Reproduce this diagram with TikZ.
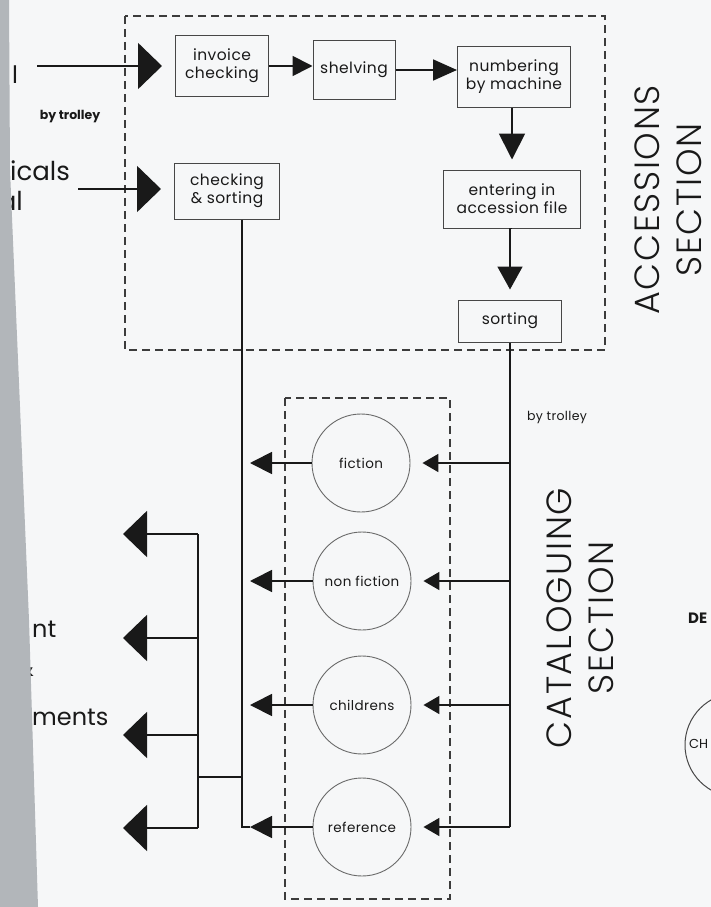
\documentclass[tikz,border=0pt]{standalone}
\usepackage{fontspec}
\setmainfont{Poppins}
\IfFontExistsTF{Poppins Light}{\newfontfamily\lightf{Poppins Light}[LetterSpace=5]}{\newfontfamily\lightf{Poppins}[LetterSpace=5]}
\newfontfamily\boxf{Poppins}[LetterSpace=3]
\usetikzlibrary{arrows.meta}
\definecolor{paper}{RGB}{246,247,248}
\definecolor{edge}{RGB}{178,182,186}
\definecolor{ink}{RGB}{25,25,25}
\begin{document}
\begin{tikzpicture}[x=1pt,y=-1pt,
  conn/.style={draw=ink, line width=1.8pt},
  bigtip/.style={-{Triangle[length=24pt,width=46pt]}},
  midtip/.style={-{Triangle[length=22pt,width=22pt]}},
  smalltip/.style={-{Triangle[length=16pt,width=18pt]}},
  box/.style={draw=ink!80, line width=1.0pt, inner sep=0pt, align=center,
    font=\boxf\fontsize{15.5}{18}\selectfont, text=ink},
  circ/.style={circle, draw=ink!65, line width=0.9pt, minimum size=98pt, inner sep=0pt,
    font=\boxf\fontsize{13.5}{16}\selectfont, text=ink},
  dashbox/.style={draw=ink!85, line width=1.2pt, dash pattern=on 8pt off 5pt},
  biglab/.style={align=center, text=ink, inner sep=0pt, font=\lightf\fontsize{35}{42}\selectfont},
  side/.style={text=ink, font=\fontsize{24}{27}\selectfont, inner sep=0pt},
  trol/.style={text=ink, font=\bfseries\fontsize{12.5}{14}\selectfont, inner sep=0pt}
]
\fill[paper] (0,0) rectangle (711,907);
\useasboundingbox (0,0) rectangle (711,907);

% dashed section boxes
\draw[dashbox] (125,16) rectangle (605,350);
\draw[dashbox] (285,398) rectangle (450,899);

% accessions boxes
\node[box, minimum width=93pt, minimum height=60pt] (ic) at (222,66) {invoice\\checking};
\node[box, minimum width=82pt, minimum height=58pt] (sh) at (354,70) {shelving};
\node[box, minimum width=113pt, minimum height=60pt] (nm) at (514,77) {numbering\\by machine};
\node[box, minimum width=137pt, minimum height=58pt] (en) at (512,199) {entering in\\accession file};
\node[box, minimum width=103pt, minimum height=42pt] (so) at (510,321) {sorting};
\node[box, minimum width=105pt, minimum height=56pt] (cs) at (227,191) {checking\\\& sorting};

% incoming arrows
\coordinate (in1) at (37,66);
\coordinate (in2) at (78,189);
\draw[conn, bigtip, shorten >=13pt] (in1) -- (ic.west);
\draw[conn, bigtip, shorten >=13pt] (in2) -- (in2 -| cs.west);

% flow in accessions
\draw[conn, -{Triangle[length=20pt,width=20pt]}] (ic.east) -- (ic.east -| sh.west);
\draw[conn, -{Triangle[length=24pt,width=21pt]}] (sh.east) -- (sh.east -| nm.west);
\draw[conn, -{Triangle[length=26pt,width=26pt]}, shorten >=10pt] (en.north |- nm.south) -- (en.north);
\draw[conn, -{Triangle[length=23pt,width=25pt]}, shorten >=10pt] (en.south) -- (en.south -| so.north) -- (so.north);

% catalogue circles
\node[circ] (fi) at (361,463) {fiction};
\node[circ] (nf) at (362,581) {non fiction};
\node[circ] (ch) at (362,705) {childrens};
\node[circ] (rf) at (362,827) {reference};

% by trolley from sorting
\draw[conn] (so.south) -- (so.south |- rf.east);
\foreach \c in {fi,nf,ch,rf}{
  \draw[conn, smalltip, shorten >=12pt] (so.south |- \c.east) -- (\c.east);
}

% line from checking & sorting
\coordinate (csb) at (242,827);
\draw[conn] (cs.south -| csb) -- (csb) -- ([xshift=8pt]csb);
\foreach \c in {fi,nf,ch,rf}{
  \draw[conn, midtip, shorten >=8pt] (\c.west) -- (\c.west -| csb);
}

% distribution to the left
\coordinate (dj) at (198,777);
\coordinate (d1) at (198,534);
\coordinate (d2) at (198,638);
\coordinate (d3) at (198,735);
\coordinate (d4) at (198,828);
\coordinate (o1) at (123,534);
\coordinate (o2) at (123,638);
\coordinate (o3) at (123,735);
\coordinate (o4) at (123,828);
\draw[conn] (csb |- dj) -- (dj);
\draw[conn] (d1) -- (d4);
\draw[conn, bigtip] (d1) -- (o1);
\draw[conn, bigtip] (d2) -- (o2);
\draw[conn, bigtip] (d3) -- (o3);
\draw[conn, bigtip] (d4) -- (o4);

% labels
\node[trol, anchor=center] (bt1) at (70,117) {by trolley};
\node[trol, anchor=center, font=\boxf\fontsize{12.5}{14}\selectfont] (bt2) at (557,417) {by trolley};
\node[biglab, rotate=90] (acc) at (668,200) {ACCESSIONS\\SECTION};
\node[biglab, rotate=90] (cat) at (580,618) {CATALOGUING\\SECTION};

% cut-off texts at left
\node[side, anchor=base west] (t1) at (12,84) {l};
\node[side, anchor=base west, font=\fontsize{26}{28}\selectfont] (t2) at (10,180) {icals};
\node[side, anchor=base east, font=\fontsize{26}{28}\selectfont] (t3) at (23,210) {al};
\node[side, anchor=base west] (t4) at (32,637) {nt};
\node[side, anchor=base east] (t5) at (34,676) {\&};
\node[side, anchor=base west] (t6) at (32,725) {ments};

% cut-off items at right
\node[text=ink, font=\bfseries\fontsize{15}{18}\selectfont, anchor=west, inner sep=0pt] (de) at (688,618) {DE};
\node[circle, draw=ink!80, line width=1pt, minimum size=104pt] (chc) at (737,745) {};
\node[text=ink, font=\fontsize{13}{15}\selectfont, anchor=west, inner sep=0pt] (chl) at (689,744) {CH};

% page edge shadow
\fill[edge] (0,0) -- (9,0) -- (10,170) -- (29,620) -- (38,907) -- (0,907) -- cycle;
\end{tikzpicture}
\end{document}
